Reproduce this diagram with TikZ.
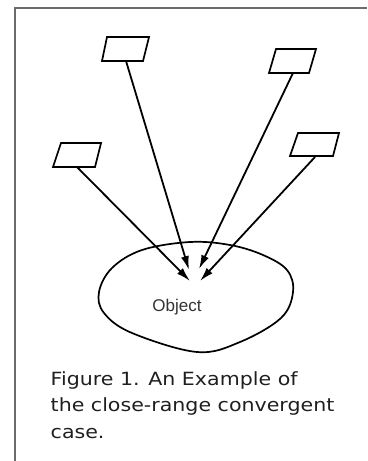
\documentclass[tikz,border=0pt]{standalone}
\usepackage{fontspec}
\usetikzlibrary{arrows.meta}
\newfontfamily\capfont[FakeStretch=1.13]{DejaVu Sans}
\newfontfamily\objfont{Liberation Sans}
\begin{document}
\begin{tikzpicture}[x=1bp,y=-1bp,
  frame/.style={draw=black!58, line width=1.6bp},
  camera/.style={draw=black, line width=1.7bp, line join=miter},
  ray/.style={draw=black, line width=1.8bp, -{Latex[length=14bp,width=8bp]}},
  blob/.style={draw=black, line width=1.7bp},
  caption/.style={anchor=base west, inner sep=0pt, align=left, font=\capfont\fontsize{18.2bp}{26.5bp}\selectfont, text=black!88}]
\useasboundingbox (0,0) rectangle (367,461);
% frame
\draw[frame] (15,461) -- (15,8) -- (367,8);
% cameras
\coordinate (c1a) at (107,37); \coordinate (c1b) at (149,37); \coordinate (c1c) at (143,61); \coordinate (c1d) at (102,61);
\coordinate (c2a) at (276,49); \coordinate (c2b) at (316,49); \coordinate (c2c) at (309,73); \coordinate (c2d) at (269,73);
\coordinate (c3a) at (61,143); \coordinate (c3b) at (101,143); \coordinate (c3c) at (95,167); \coordinate (c3d) at (53,167);
\coordinate (c4a) at (298,133); \coordinate (c4b) at (339,133); \coordinate (c4c) at (333,156); \coordinate (c4d) at (290,156);
\draw[camera] (c1a) -- (c1b) -- (c1c) -- (c1d) -- cycle;
\draw[camera] (c2a) -- (c2b) -- (c2c) -- (c2d) -- cycle;
\draw[camera] (c3a) -- (c3b) -- (c3c) -- (c3d) -- cycle;
\draw[camera] (c4a) -- (c4b) -- (c4c) -- (c4d) -- cycle;
% ray start and end points
\coordinate (s1) at (126,61);
\coordinate (s2) at (293,73);
\coordinate (s3) at (77,167);
\coordinate (s4) at (315,157);
\coordinate (e1) at (189,270);
\coordinate (e2) at (199,269);
\coordinate (e3) at (190,281);
\coordinate (e4) at (200,281);
% object
\draw[blob] plot[smooth cycle, tension=0.6] coordinates {(190,242) (230,245) (263,255) (287,270) (293,292) (281,318) (240,342) (197,352) (132,333) (104,313) (99,292) (112,268) (142,250)};
\node[font=\objfont\fontsize{17bp}{20bp}\selectfont, text=black!80, inner sep=0pt] (obj) at (177,307) {Object};
% rays
\draw[ray] (s1) -- (e1);
\draw[ray] (s2) -- (e2);
\draw[ray] (s3) -- (e3);
\draw[ray] (s4) -- (e4);
% caption
\node[caption] (cap) at (50.5,438) {Figure 1. An Example of\\the close-range convergent\\case.};
\end{tikzpicture}
\end{document}
